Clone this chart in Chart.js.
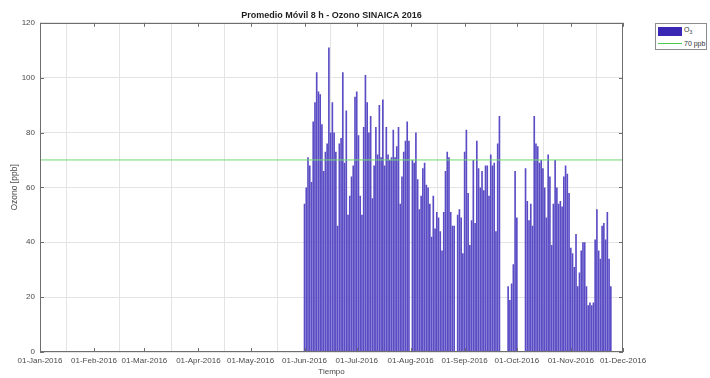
<!DOCTYPE html>
<html>
<head>
<meta charset="utf-8">
<script src="https://cdn.jsdelivr.net/npm/chart.js@4.4.1/dist/chart.umd.min.js"></script>
<style>
  body { margin: 0; background: #fff; }
  #caja { position: relative; width: 710px; height: 378px; }
  #leyenda {
    position: absolute; left: 655px; top: 23px; width: 52px; height: 27px;
    box-sizing: border-box; border: 1px solid #8c8c8c; background: #fff;
    font-family: 'Liberation Sans', Arial, sans-serif; font-size: 7px; color: #333;
  }
  .fila { position: absolute; left: 2px; height: 10px; display: flex; align-items: center; white-space: nowrap; }
  .muestra { display: inline-block; width: 24px; margin-right: 2px; }
  .barra { height: 9px; background: #3a28b4; }
  .linea { height: 0; border-top: 1px solid #4cc94c; }
  sub { font-size: 5px; }
</style>
</head>
<body>
<div id="caja">
  <canvas id="grafico" width="710" height="378"></canvas>
  <div id="leyenda">
    <div class="fila" style="top:2px"><span class="muestra barra"></span><span>O<sub>3</sub></span></div>
    <div class="fila" style="top:14px"><span class="muestra linea"></span><span>70 ppb</span></div>
  </div>
</div>
<script>
// dia del año (0 = 01-Jan-2016) de cada inicio de mes
const mesesDia = [0, 31, 60, 91, 121, 152, 182, 213, 244, 274, 305, 335];
const mesesEtiqueta = ['01-Jan-2016', '01-Feb-2016', '01-Mar-2016', '01-Apr-2016', '01-May-2016', '01-Jun-2016',
  '01-Jul-2016', '01-Aug-2016', '01-Sep-2016', '01-Oct-2016', '01-Nov-2016', '01-Dec-2016'];

// Promedio movil 8 h, un valor por dia a partir del 01-Jun-2016 (null = sin dato)
const inicioSerie = 152;
const ozono = [
  54, 60, 71, 68, 62, 84, 91, 102, 95, 94, 83, 66, 73, 76, 111, 80, 91, 80, 73, 46,
  76, 78, 102, 69, 88, 50, 57, 64, 68, 93, 95, 79, 57, 50, 82, 101, 91, 80, 86, 56,
  68, 82, 72,
  90, 71, 92, 68, 82, 72, 70, 71, 81, 71, 75, 82, 54, 64, 73, 77, 84, 77, null, 70,
  69, 80, 63, 52, 57, 67, 69, 61, 60, 54, 42, 57, 45, 51, 49, 44, 37, 51, 66, 73,
  71, 51, 46, 46, null,
  50, 52, 49, 36, 73, 81, 58, 39, 48, 70, 47, 77, 67, 60, 66, 59, 68, 68, 57, 72,
  68, 69, 44, 76, 86, null, null, null, null,
  24, 19, 25, 32, 66, 49, null, null, null, null,
  67, 55, 48, 54, 46,
  86, 76, 75, 69, 70, 67, 60, 49, 72, 64, 39, 54, 70, 60, 54, 55, 53, 64, 68, 65,
  58, 38, 36, 31, 43, 24, 29, 37, 40, 40, 24, 17, 18, 17, 18, 41, 52, 37, 34, 46,
  47, 41, 51, 34, 24
];
const umbral = 70;

Chart.defaults.font.family = "'Liberation Sans', Arial, sans-serif";
Chart.defaults.font.size = 8;
Chart.defaults.color = '#4a4a4a';

// marco del eje y marcas hacia adentro (estilo MATLAB)
const marco = {
  id: 'marco',
  afterDraw(chart) {
    const { ctx, chartArea: a, scales: { x, y } } = chart;
    ctx.save();
    ctx.strokeStyle = '#6e6e6e';
    ctx.lineWidth = 1;
    ctx.strokeRect(Math.round(a.left) + 0.5, Math.round(a.top) + 0.5,
      Math.round(a.width) - 1, Math.round(a.height) - 1);
    ctx.beginPath();
    x.ticks.forEach(t => {
      const px = Math.round(x.getPixelForValue(t.value)) + 0.5;
      ctx.moveTo(px, a.bottom); ctx.lineTo(px, a.bottom - 4);
      ctx.moveTo(px, a.top); ctx.lineTo(px, a.top + 4);
    });
    y.ticks.forEach(t => {
      const py = Math.round(y.getPixelForValue(t.value)) + 0.5;
      ctx.moveTo(a.left, py); ctx.lineTo(a.left + 4, py);
      ctx.moveTo(a.right, py); ctx.lineTo(a.right - 4, py);
    });
    ctx.stroke();
    ctx.restore();
  }
};

new Chart(document.getElementById('grafico'), {
  type: 'bar',
  data: {
    datasets: [
      {
        type: 'line',
        label: '70 ppb',
        data: [{ x: mesesDia[0], y: umbral }, { x: mesesDia[mesesDia.length - 1], y: umbral }],
        borderColor: '#6fd86f',
        borderWidth: 1,
        pointRadius: 0,
        order: 0
      },
      {
        label: 'O3',
        data: ozono.map((v, i) => ({ x: inicioSerie + i, y: v })),
        backgroundColor: '#5a4cc4',
        borderWidth: 0,
        barPercentage: 0.95,
        categoryPercentage: 1,
        order: 1
      }
    ]
  },
  options: {
    responsive: false,
    animation: false,
    layout: { padding: { left: 0, right: 87, top: 0, bottom: 0 } },
    scales: {
      x: {
        type: 'linear',
        min: 0,
        max: 335,
        offset: false,
        afterBuildTicks: s => { s.ticks = mesesDia.map(v => ({ value: v })); },
        afterFit: s => { s.height = 26; },
        ticks: {
          autoSkip: false,
          maxRotation: 0,
          padding: 4,
          callback: v => mesesEtiqueta[mesesDia.indexOf(v)]
        },
        grid: { color: '#e4e4e4', drawTicks: false },
        border: { display: false },
        title: { display: true, text: 'Tiempo', padding: { top: 0, bottom: 1 } }
      },
      y: {
        min: 0,
        max: 120,
        afterFit: s => { s.width = 40; },
        ticks: { stepSize: 20, padding: 5 },
        grid: { color: '#e4e4e4', drawTicks: false },
        border: { display: false },
        title: { display: true, text: 'Ozono [ppb]', font: { size: 8.5 }, padding: { top: 10, bottom: 0 } }
      }
    },
    plugins: {
      legend: { display: false },
      tooltip: { enabled: false },
      title: {
        display: true,
        text: 'Promedio Móvil 8 h - Ozono SINAICA 2016',
        fullSize: false,
        color: '#1e1e1e',
        font: { size: 9, weight: 'bold' },
        padding: { top: 10, bottom: 2 }
      }
    }
  },
  plugins: [marco]
});
</script>
</body>
</html>
